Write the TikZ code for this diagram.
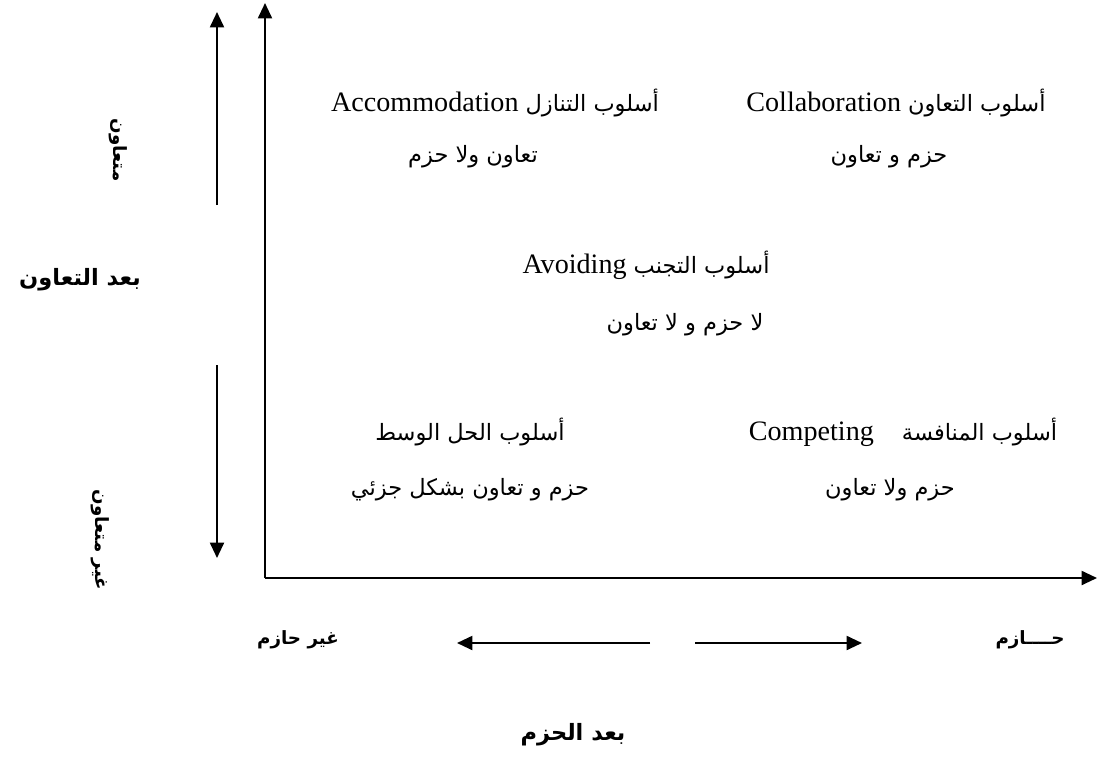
\documentclass[tikz,border=0pt]{standalone}
\usepackage{fontspec}
\setmainfont{Liberation Serif}
\newfontfamily\arabicfont[Script=Arabic]{DejaVu Sans}
\TeXXeTstate=1
\usetikzlibrary{positioning,arrows.meta}
\tikzset{>={Triangle[length=11pt,width=10pt]},
ax/.style={->,line width=1.5pt},
sty/.style={font=\fontsize{20}{24}\selectfont,inner sep=1mm},
sub/.style={font=\fontsize{16}{19}\arabicfont,inner sep=1mm},
dim/.style={font=\fontsize{16}{19}\arabicfont\bfseries,inner sep=1mm},
pole/.style={font=\fontsize{13}{15}\arabicfont\bfseries,inner sep=1mm},
}
\newcommand{\arsty}[1]{{\arabicfont\fontsize{16}{19}\selectfont\beginR #1\endR}}

\begin{document}
\begin{tikzpicture}[x=0.025cm,y=-0.025cm]
	\useasboundingbox (0,0) rectangle (1097,757);

	% axes
	\coordinate (o) at (265,578);
	\coordinate (ytop) at (265,3);
	\coordinate (xend) at (1097,578);
	\draw[ax] (o) -- (ytop);
	\draw[ax] (o) -- (xend);

	% cooperation dimension
	\coordinate (up0) at (217,205);
	\coordinate (up1) at (217,12);
	\coordinate (dn0) at (217,365);
	\coordinate (dn1) at (217,558);
	\draw[ax] (up0) -- (up1);
	\draw[ax] (dn0) -- (dn1);
	\node[pole,rotate=-90] (coop) at (118,150) {\beginR متعاون\endR};
	\node[dim] (coopdim) at (80,280) {\beginR بعد التعاون\endR};
	\node[pole,rotate=-90] (noncoop) at (100,540) {\beginR غير متعاون\endR};

	% assertiveness dimension
	\coordinate (lt0) at (650,643);
	\coordinate (lt1) at (457,643);
	\coordinate (rt0) at (695,643);
	\coordinate (rt1) at (862,643);
	\draw[ax] (lt0) -- (lt1);
	\draw[ax] (rt0) -- (rt1);
	\node[pole] (nonass) at (298,640) {\beginR غير حازم\endR};
	\node[pole] (ass) at (1030,640) {\beginR حــــازم\endR};
	\node[dim] (assdim) at (573,735) {\beginR بعد الحزم\endR};

	% styles
	\node[sty] (acc) at (495,103) {Accommodation \arsty{أسلوب التنازل}};
	\node[sub] (accsub) at (473,157) {\beginR تعاون ولا حزم\endR};
	\node[sty] (col) at (896,103) {Collaboration \arsty{أسلوب التعاون}};
	\node[sub] (colsub) at (889,157) {\beginR حزم و تعاون\endR};
	\node[sty] (avo) at (646,265) {Avoiding \arsty{أسلوب التجنب}};
	\node[sub] (avosub) at (685,325) {\beginR لا حزم و لا تعاون\endR};
	\node[sub] (com) at (470,432) {\beginR أسلوب الحل الوسط\endR};
	\node[sub] (comsub) at (470,490) {\beginR حزم و تعاون بشكل جزئي\endR};
	\node[sty] (cpt) at (903,432) {Competing\quad\arsty{أسلوب المنافسة}};
	\node[sub] (cptsub) at (890,490) {\beginR حزم ولا تعاون\endR};
\end{tikzpicture}
\end{document}
